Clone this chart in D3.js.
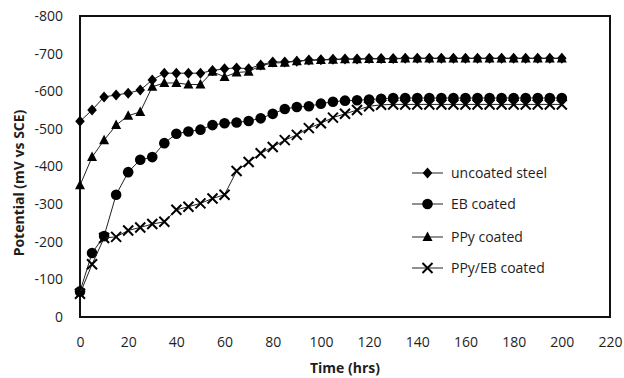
<!DOCTYPE html>
<html>
<head>
<meta charset="utf-8">
<script src="https://cdn.jsdelivr.net/npm/d3@7"></script>
<style>
  html, body { margin: 0; padding: 0; background: #fff; }
  svg { display: block; }
  text { font-family: "Open Sans", "DejaVu Sans", sans-serif; fill: #1e1e1e; }
</style>
</head>
<body>
<svg id="chart" width="624" height="378"></svg>
<script>
// Time axis (hours), sampled every 5 h
const hours = d3.range(0, 201, 5);

// Open-circuit potential in mV vs SCE for each sample
const uncoatedSteel = [-520, -550, -585, -590, -595, -603, -630, -648, -648, -648, -648, -655, -660, -662, -660, -670, -678, -678, -680, -683, -684,
  -685, -686, -686, -687, -687, -687, -688, -688, -688, -688, -688, -688, -688, -688, -688, -688, -688, -688, -688, -688];
const ebCoated = [-68, -170, -215, -325, -385, -418, -425, -462, -487, -493, -498, -510, -515, -517, -521, -528, -540, -553, -558, -560, -567,
  -572, -575, -576, -578, -580, -582, -582, -582, -582, -582, -582, -582, -582, -582, -582, -582, -582, -582, -582, -582];
const ppyCoated = [-350, -425, -470, -510, -535, -545, -612, -622, -622, -618, -618, -652, -638, -650, -652, -668, -675, -676, -680, -682, -683,
  -684, -685, -685, -686, -686, -686, -687, -687, -687, -687, -687, -687, -687, -687, -687, -687, -687, -687, -687, -687];
const ppyEbCoated = [-62, -140, -210, -213, -230, -238, -247, -253, -285, -293, -302, -315, -325, -388, -412, -435, -452, -470, -484, -502, -515,
  -530, -540, -550, -560, -564, -565, -565, -565, -565, -565, -565, -565, -565, -565, -565, -565, -565, -565, -565, -565];

const seriesNames = ["uncoated steel", "EB coated", "PPy coated", "PPy/EB coated"];
const seriesValues = [uncoatedSteel, ebCoated, ppyCoated, ppyEbCoated];
const seriesMarkers = ["diamond", "circle", "triangle", "cross"];

const xTicks = d3.range(0, 221, 20);
const yTicks = d3.range(0, -801, -100);

const xLabel = "Time (hrs)";
const yLabel = "Potential (mV vs SCE)";

const svg = d3.select("#chart");
const plot = { left: 80, right: 610, top: 16, bottom: 317 };

const x = d3.scaleLinear().domain([0, 220]).range([plot.left, plot.right]);
const y = d3.scaleLinear().domain([0, -800]).range([plot.bottom, plot.top]);

// Axes: labels only, no tick marks
const xAxis = d3.axisBottom(x).tickValues(xTicks).tickSize(0).tickPadding(20).tickFormat(d3.format("d"));
const yAxis = d3.axisLeft(y).tickValues(yTicks).tickSize(0).tickPadding(17).tickFormat(d => d === 0 ? "0" : String(d));

const gx = svg.append("g").attr("transform", `translate(0,${plot.bottom})`).call(xAxis);
const gy = svg.append("g").attr("transform", `translate(${plot.left},0)`).call(yAxis);
[gx, gy].forEach(g => {
  g.select(".domain").remove();
  g.selectAll("text").attr("font-size", 14).style("font-family", "'Open Sans', sans-serif").attr("fill", "#1a1a1a");
});

// Plot frame
svg.append("rect")
  .attr("x", plot.left).attr("y", plot.top)
  .attr("width", plot.right - plot.left).attr("height", plot.bottom - plot.top)
  .attr("fill", "none").attr("stroke", "#111").attr("stroke-width", 2);

// Axis titles
svg.append("text")
  .attr("x", 345).attr("y", 373)
  .attr("text-anchor", "middle").attr("font-size", 14).attr("font-weight", "bold")
  .text(xLabel);
svg.append("text")
  .attr("transform", "translate(24,183) rotate(-90)")
  .attr("text-anchor", "middle").attr("font-size", 14).attr("font-weight", "bold")
  .text(yLabel);

// Marker shapes
function drawMarker(g, type) {
  if (type === "diamond") {
    g.append("path").attr("d", "M0,-5.5L4.8,0L0,5.5L-4.8,0Z").attr("fill", "#000");
  } else if (type === "circle") {
    g.append("circle").attr("r", 5.3).attr("fill", "#000");
  } else if (type === "triangle") {
    g.append("path").attr("d", "M0,-5.5L5,4L-5,4Z").attr("fill", "#000");
  } else {
    g.append("path").attr("d", "M-5,-5L5,5M-5,5L5,-5").attr("stroke", "#000").attr("stroke-width", 2).attr("fill", "none");
  }
}

const line = d3.line().x((d, i) => x(hours[i])).y(d => y(d));

seriesValues.forEach((vals, s) => {
  const g = svg.append("g");
  g.append("path").datum(vals)
    .attr("d", line)
    .attr("fill", "none").attr("stroke", "#222").attr("stroke-width", 1);
  vals.forEach((v, i) => {
    const m = g.append("g").attr("transform", `translate(${x(hours[i])},${y(v)})`);
    drawMarker(m, seriesMarkers[s]);
  });
});

// Legend
const legend = svg.append("g");
const legendRows = [173, 204, 237, 268];
seriesNames.forEach((name, i) => {
  const row = legend.append("g").attr("transform", `translate(0,${legendRows[i]})`);
  row.append("line").attr("x1", 412).attr("x2", 443).attr("y1", 0).attr("y2", 0)
    .attr("stroke", "#222").attr("stroke-width", 1);
  const m = row.append("g").attr("transform", "translate(427.5,0)");
  drawMarker(m, seriesMarkers[i]);
  row.append("text").attr("x", 451).attr("y", 5).attr("font-size", 14).text(name);
});
</script>
</body>
</html>
